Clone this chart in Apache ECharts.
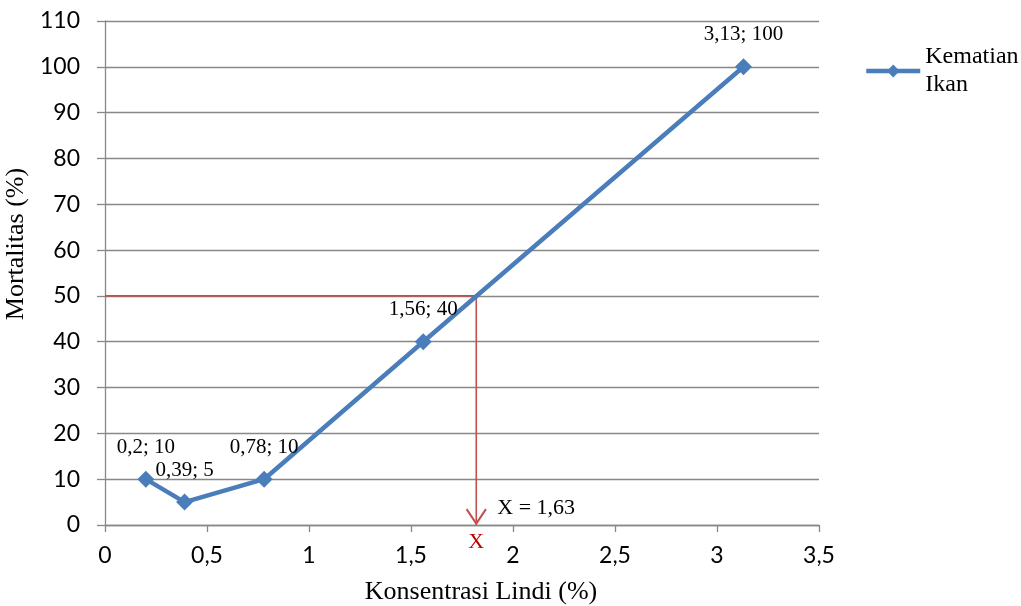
<!DOCTYPE html>
<html>
<head>
<meta charset="utf-8">
<script src="https://cdn.jsdelivr.net/npm/echarts@6/dist/echarts.min.js"></script>
<style>
  html, body { margin: 0; padding: 0; background: #fff; }
  #chart { width: 1021px; height: 606px; }
</style>
</head>
<body>
<div id="chart"></div>
<script>
// ---- data ----
const concentrations = [0.2, 0.39, 0.78, 1.56, 3.13];
const mortality = [10, 5, 10, 40, 100];
const seriesName = 'Kematian Ikan';
const refMortality = 50;     // LC50 level
const refConcentration = 1.82; // where the drop line meets the x axis as drawn
const refLabel = 'X = 1,63';
const refAxisLabel = 'X';
const xTitle = 'Konsentrasi Lindi (%)';
const yTitle = 'Mortalitas (%)';

const fmt = v => String(v).replace('.', ',');
const serif = 'Liberation Serif, Times New Roman, serif';
const sans = 'Lato, Carlito, Calibri, sans-serif';
const gridColor = '#888888';
const blue = '#4A7EBB';
const red = '#C0504D';

const chart = echarts.init(document.getElementById('chart'), null, { renderer: 'canvas' });

chart.setOption({
  animation: false,
  backgroundColor: '#ffffff',
  grid: { left: 105, right: 202, top: 21, bottom: 81, containLabel: false, outerBoundsMode: 'none' },
  legend: {
    data: [seriesName],
    left: 864,
    top: 29,
    padding: 0,
    itemWidth: 54,
    itemHeight: 16,
    itemGap: 0,
    lineStyle: { width: 4.5, color: blue },
    itemStyle: { color: blue },
    formatter: n => n.replace(' ', '\n'),
    textStyle: {
      fontFamily: serif, fontSize: 24, color: '#000', lineHeight: 28,
      padding: [28, 0, 0, 0]
    }
  },
  xAxis: {
    type: 'value',
    min: 0, max: 3.5, interval: 0.5,
    name: xTitle,
    nameLocation: 'middle',
    nameGap: 54,
    nameTextStyle: { fontFamily: serif, fontSize: 26, color: '#000', padding: [0, 0, 0, 38] },
    axisLine: { show: true, onZero: false, lineStyle: { color: gridColor, width: 1.3 } },
    axisTick: { show: true, inside: false, length: 7, lineStyle: { color: gridColor, width: 1.3 } },
    splitLine: { show: false },
    axisLabel: { formatter: fmt, fontFamily: sans, fontSize: 23, color: '#000', margin: 19 }
  },
  yAxis: {
    type: 'value',
    min: 0, max: 110, interval: 10,
    name: yTitle,
    nameLocation: 'middle',
    nameGap: 64,
    nameTextStyle: { fontFamily: serif, fontSize: 26, color: '#000', padding: [0, 0, 0, 58] },
    axisLine: { show: true, lineStyle: { color: gridColor, width: 1.3 } },
    axisTick: { show: true, inside: false, length: 8, lineStyle: { color: gridColor, width: 1.3 } },
    splitLine: { show: true, lineStyle: { color: gridColor, width: 1.3 } },
    axisLabel: { fontFamily: sans, fontSize: 23, color: '#000', margin: 25 }
  },
  series: [
    {
      name: 'ref',
      type: 'line',
      silent: true,
      z: 2,
      symbol: 'none',
      lineStyle: { color: red, width: 1.6 },
      itemStyle: { color: red },
      data: [[0, refMortality], [refConcentration, refMortality], [refConcentration, 0]],
      markPoint: {
        silent: true,
        animation: false,
        data: [
          {
            coord: [refConcentration, 0],
            symbol: 'path://M1.6,0 L10,11.6 L18.4,0 L20,1.1 L10,15 L0,1.1 Z',
            symbolSize: [21, 17],
            symbolOffset: [0, -8],
            itemStyle: { color: red },
            label: { show: false }
          },
          {
            coord: [refConcentration, 0],
            symbol: 'circle',
            symbolSize: 0,
            label: {
              show: true, formatter: refLabel, position: 'right',
              offset: [16, -17],
              fontFamily: serif, fontSize: 22, color: '#000'
            }
          },
          {
            coord: [refConcentration, 0],
            symbol: 'circle',
            symbolSize: 0,
            label: {
              show: true, formatter: refAxisLabel, position: 'inside',
              offset: [0, 17],
              fontFamily: serif, fontSize: 22, color: '#C00000'
            }
          }
        ]
      }
    },
    {
      name: seriesName,
      type: 'line',
      z: 5,
      data: concentrations.map((x, i) => [x, mortality[i]]),
      symbol: 'diamond',
      symbolSize: 17,
      lineStyle: { color: blue, width: 4.5 },
      itemStyle: { color: blue },
      label: {
        show: true,
        position: 'top',
        distance: 13,
        formatter: p => fmt(p.value[0]) + '; ' + p.value[1],
        fontFamily: serif, fontSize: 21, color: '#000'
      }
    }
  ]
});
</script>
</body>
</html>
